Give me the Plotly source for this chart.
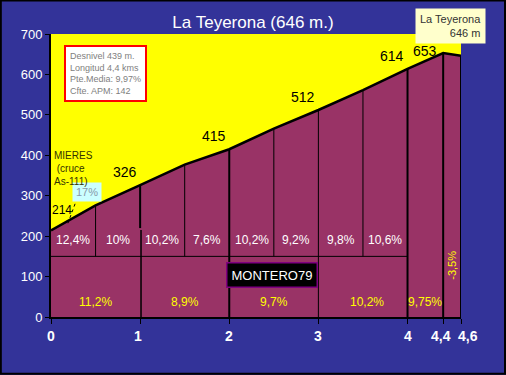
import plotly.graph_objects as go

# ---- data ----
dist_km = [0, 0.5, 1, 1.5, 2, 2.5, 3, 3.5, 4, 4.4, 4.6]
elev_m = [214, 276, 326, 377, 415, 466, 512, 561, 614, 653, 646]
half_km_pct = ["12,4%", "10%", "10,2%", "7,6%", "10,2%", "9,2%", "9,8%", "10,6%"]
km_pct = ["11,2%", "8,9%", "9,7%", "10,2%", "9,75%"]
km_pct_x = [0.5, 1.5, 2.5, 3.55, 4.2]
last_pct = "-3,5%"
peak_labels = [(1, 326), (2, 415), (3, 512), (4, 614), (4.4, 653)]
x_ticks = [0, 1, 2, 3, 4, 4.4, 4.6]
x_ticktext = ["0", "1", "2", "3", "4", "4,4", "4,6"]
y_ticks = [0, 100, 200, 300, 400, 500, 600, 700]
X_MAX = 4.6

MAROON = "#993366"
BLUE = "#333399"

fig = go.Figure()
fig.add_trace(go.Scatter(x=dist_km, y=elev_m, mode="lines", fill="tozeroy",
                         fillcolor=MAROON, line=dict(color="black", width=2.5),
                         hoverinfo="skip", showlegend=False))

shapes = []
for x, e in zip(dist_km, elev_m):
    if x in (0.5, 1.5, 2.5, 3.5):
        shapes.append(dict(type="line", x0=x, x1=x, y0=150, y1=e,
                           line=dict(color="black", width=1)))
for x, e in zip(dist_km, elev_m):
    if x == 1:
        shapes.append(dict(type="line", x0=x, x1=x, y0=220, y1=e, line=dict(color="black", width=2)))
        shapes.append(dict(type="line", x0=x + 0.01, x1=x + 0.01, y0=0, y1=215, line=dict(color="black", width=1.5)))
    elif x == 3:
        shapes.append(dict(type="line", x0=x, x1=x, y0=0, y1=e, line=dict(color="black", width=1)))
    elif x in (2, 4, 4.4, 4.6):
        shapes.append(dict(type="line", x0=x, x1=x, y0=0, y1=e, line=dict(color="black", width=2)))
shapes.append(dict(type="line", x0=0, x1=4, y0=150, y1=150, line=dict(color="black", width=1)))
shapes.append(dict(type="line", x0=0.27, x1=0.19, y0=280, y1=232,
                   line=dict(color="black", width=1, dash="dot")))
shapes.append(dict(type="rect", xref="paper", yref="paper",
                   x0=-51/410 + 0.002, x1=1 + 44/410, y0=-58/283 + 0.004, y1=1 + 34/283 - 0.002,
                   line=dict(color="black", width=2), fillcolor="rgba(0,0,0,0)", layer="above"))

ann = []
for i, t in enumerate(half_km_pct):
    ann.append(dict(x=0.25 + 0.5 * i, y=190, text=t, showarrow=False,
                    font=dict(color="white", size=12, family="Arial")))
for x, t in zip(km_pct_x, km_pct):
    ann.append(dict(x=x, y=36, text=t, showarrow=False,
                    font=dict(color="#FFFF00", size=12, family="Arial")))
ann.append(dict(x=4.5, y=127, text=last_pct, showarrow=False, textangle=-90,
                font=dict(color="#FFFF00", size=11, family="Arial")))
for x, e in peak_labels:
    if x < 4.3:
        ann.append(dict(x=x - 0.17, y=e + 32, text=str(e), showarrow=False,
                        font=dict(color="black", size=14, family="Arial")))
    else:
        ann.append(dict(x=x - 0.2, y=e + 4, text=str(e), showarrow=False,
                        font=dict(color="black", size=14, family="Arial")))
ann.append(dict(x=0.12, y=264, text=str(elev_m[0]), showarrow=False,
                font=dict(color="black", size=12, family="Arial")))
ann.append(dict(x=0.4, y=308, text="17%", showarrow=False, bgcolor="#CCFFFF", borderpad=3,
                font=dict(color="#8899AA", size=11, family="Arial")))
ann.append(dict(x=0.25, y=418, yanchor="top", text="MIERES<br> (cruce<br>As-111)", showarrow=False,
                align="left", font=dict(color="#333300", size=10, family="Arial")))
ann.append(dict(x=2.48, y=103, text="MONTERO79", showarrow=False, bgcolor="black",
                bordercolor="#800080", borderwidth=1.5, borderpad=4,
                font=dict(color="white", size=13, family="Arial")))
ann.append(dict(xref="paper", yref="paper", x=13/410, y=1 - 11/283, xanchor="left", yanchor="top",
                text="Desnivel 439 m.<br>Longitud 4,4 kms<br>Pte.Media: 9,97%<br>Cfte. APM: 142",
                showarrow=False, align="left", bgcolor="white", bordercolor="#FF0000",
                borderwidth=2, borderpad=4,
                font=dict(color="#808080", size=9, family="Arial")))
ann.append(dict(xref="paper", yref="paper", x=1 + 25/410, y=1 + 26/283, xanchor="right", yanchor="top",
                text="La Teyerona<br>646 m", showarrow=False, align="right", bgcolor="#FFFFCC",
                borderpad=4, font=dict(color="#333333", size=11, family="Arial")))
label_shift = {0: 0, 1: -2, 4.4: -2, 4.6: 7}
for v, t in zip(x_ticks, x_ticktext):
    ann.append(dict(x=v, y=0, xshift=label_shift.get(v, 0), yshift=-19,
                    text="<b>" + t + "</b>", showarrow=False, yanchor="middle",
                    font=dict(color="white", size=14, family="Arial")))

fig.update_layout(
    width=506, height=375,
    margin=dict(l=51, r=45, t=34, b=58, autoexpand=False),
    paper_bgcolor=BLUE, plot_bgcolor="#FFFF00",
    title=dict(text="La Teyerona (646 m.)", x=0.5, xanchor="center", y=1 - 22/375, yanchor="middle",
               font=dict(color="white", size=17, family="Arial")),
    xaxis=dict(range=[0, X_MAX], tickvals=x_ticks, showticklabels=False, showgrid=False, zeroline=False,
               showline=True, linecolor="black", linewidth=2, ticks="outside", tickcolor="black",
               ticklen=5, automargin=False),
    yaxis=dict(range=[0, 700], tickvals=y_ticks, showgrid=False, zeroline=False,
               showline=True, linecolor="black", linewidth=2, ticks="outside", tickcolor="black",
               ticklen=4, tickfont=dict(color="white", size=13, family="Arial"), automargin=False),
    shapes=shapes, annotations=ann,
)
fig.write_html("out.html", config={"displayModeBar": False},
               post_script="document.body.style.margin='0';document.body.style.overflow='hidden';")
